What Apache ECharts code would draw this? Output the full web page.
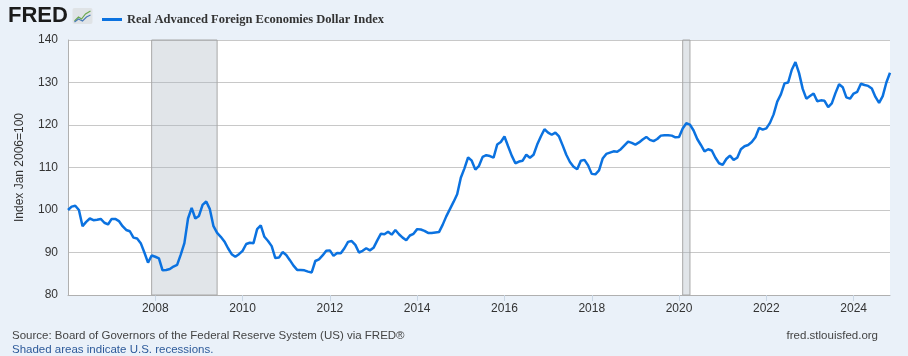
<!DOCTYPE html>
<html>
<head>
<meta charset="utf-8">
<script src="https://cdn.jsdelivr.net/npm/echarts@6/dist/echarts.min.js"></script>
<style>
html,body{margin:0;padding:0;background:#eaf1f9;}
#c{width:908px;height:356px;}
</style>
</head>
<body>
<div id="c"></div>
<script>
// Monthly data, Jan 2006 .. Nov 2024
var startYear = 2006;
var seriesName = 'Real Advanced Foreign Economies Dollar Index';
var values = [
100.0,100.8,101.0,100.0,96.2,97.2,98.0,97.6,97.7,97.9,97.0,96.6,
97.9,97.9,97.4,96.2,95.3,95.0,93.5,93.3,92.2,90.0,87.6,89.3,
89.0,88.6,85.8,85.9,86.1,86.7,87.1,89.5,92.2,98.0,100.5,98.0,
98.6,101.2,102.0,100.2,96.2,94.6,93.7,92.6,91.0,89.6,89.0,89.6,
90.4,92.0,92.3,92.2,95.5,96.4,93.7,92.7,91.5,88.7,88.8,90.1,
89.4,88.2,86.9,85.9,85.9,85.8,85.5,85.3,88.0,88.4,89.3,90.4,
90.5,89.2,89.9,89.8,91.0,92.5,92.7,91.8,90.0,90.4,91.0,90.5,
91.1,92.8,94.4,94.3,94.9,94.2,95.3,94.3,93.5,92.9,94.0,94.4,
95.5,95.4,95.1,94.6,94.6,94.7,94.8,96.5,98.5,100.2,101.9,103.7,
107.6,109.8,112.4,111.6,109.5,110.4,112.5,112.9,112.7,112.3,115.4,116.0,
117.3,115.0,112.8,111.0,111.4,111.6,113.0,112.3,113.0,115.4,117.3,119.0,
118.2,117.7,118.2,117.3,115.2,113.0,111.3,110.2,109.6,111.6,111.8,110.5,
108.5,108.4,109.3,112.1,113.2,113.5,113.8,113.7,114.3,115.2,116.1,115.8,
115.4,115.9,116.6,117.2,116.5,116.2,116.7,117.5,117.6,117.6,117.5,117.1,
117.2,119.2,120.4,120.1,118.7,116.7,115.3,113.8,114.3,114.0,112.3,111.0,
110.6,112.0,112.8,111.8,112.3,114.3,115.0,115.3,116.0,117.1,119.3,118.9,
119.2,120.5,122.5,125.5,127.2,129.8,130.0,133.0,134.8,132.2,128.5,126.2,
126.8,127.4,125.6,125.8,125.7,124.2,125.1,127.5,129.6,128.9,126.5,126.2,
127.4,127.8,129.7,129.4,129.2,128.6,126.6,125.2,126.8,130.0,132.3
];
var xTickLabels = ['2008','2010','2012','2014','2016','2018','2020','2022','2024'];
var recessions = [['2007-12','2009-06'],['2020-02','2020-04']];

var categories = [];
for (var i = 0; i < values.length; i++) {
  var y = startYear + Math.floor(i / 12);
  var m = (i % 12) + 1;
  categories.push(y + '-' + (m < 10 ? '0' + m : m));
}
function isTick(idx) {
  var c = categories[idx];
  return c.slice(5) === '01' && xTickLabels.indexOf(c.slice(0, 4)) >= 0;
}

var chart = echarts.init(document.getElementById('c'), null, {renderer: 'canvas'});
chart.setOption({
  backgroundColor: '#eaf1f9',
  animation: false,
  grid: {left: 68, right: 18, top: 40, bottom: 61, show: true, backgroundColor: '#ffffff', borderWidth: 0},
  legend: {
    left: 97, top: 8,
    icon: 'rect', itemWidth: 20, itemHeight: 3, itemGap: 6,
    textStyle: {fontFamily: 'Liberation Serif', fontWeight: 'bold', fontSize: 12.5, color: '#333'},
    data: [seriesName]
  },
  xAxis: {
    type: 'category', data: categories, boundaryGap: false,
    axisLine: {show: true, lineStyle: {color: '#b0b0b0', width: 1}},
    axisTick: {show: true, interval: function (idx) { return isTick(idx); }, length: 6, lineStyle: {color: '#c9d6e4'}},
    axisLabel: {
      interval: function (idx) { return isTick(idx); },
      formatter: function (v) { return v.slice(0, 4); },
      color: '#333', fontSize: 12, fontFamily: 'Liberation Sans', margin: 8
    },
    splitLine: {show: false}
  },
  yAxis: {
    type: 'value', min: 80, max: 140, interval: 10,
    name: 'Index Jan 2006=100', nameLocation: 'middle', nameGap: 42, nameRotate: 90,
    nameTextStyle: {color: '#333', fontSize: 12, fontFamily: 'Liberation Sans'},
    axisLine: {show: true, lineStyle: {color: '#b0b0b0', width: 1}},
    axisTick: {show: false},
    axisLabel: {color: '#333', fontSize: 12, fontFamily: 'Liberation Sans', margin: 10},
    splitLine: {show: true, lineStyle: {color: '#c8c8c8', width: 1}}
  },
  series: [{
    name: seriesName, type: 'line', data: values,
    showSymbol: false, symbol: 'none',
    lineStyle: {color: '#0b72e0', width: 2.5},
    itemStyle: {color: '#0b72e0'},
    markArea: {
      silent: true,
      itemStyle: {color: 'rgba(170,180,192,0.35)', borderColor: '#a8a8a8', borderWidth: 1},
      data: recessions.map(function (r) { return [{xAxis: r[0]}, {xAxis: r[1]}]; })
    }
  }],
  graphic: [
    {type: 'text', left: 8, top: 5, style: {text: 'FRED', fontFamily: 'Liberation Sans', fontWeight: 900, fontSize: 22, fill: '#1b1b1b'}},
    {type: 'group', left: 72, top: 8, children: [
      {type: 'rect', shape: {x: 0, y: 0, width: 20, height: 16, r: 2}, style: {fill: '#dfe3e6'}},
      {type: 'polyline', shape: {points: [[2, 13], [6, 9], [9, 11], [13, 6], [18, 3]]}, style: {stroke: '#6aa84f', lineWidth: 1.2, fill: null}},
      {type: 'polyline', shape: {points: [[2, 14], [6, 11], [10, 13], [14, 9], [18, 7]]}, style: {stroke: '#4a7bb7', lineWidth: 1.2, fill: null}}
    ]},
    {type: 'text', left: 12, top: 330, style: {text: 'Source: Board of Governors of the Federal Reserve System (US) via FRED®', fontFamily: 'Liberation Sans', fontSize: 11.5, fill: '#444'}},
    {type: 'text', left: 12, top: 344, style: {text: 'Shaded areas indicate U.S. recessions.', fontFamily: 'Liberation Sans', fontSize: 11.5, fill: '#2d5a9a'}},
    {type: 'text', right: 30, top: 330, style: {text: 'fred.stlouisfed.org', fontFamily: 'Liberation Sans', fontSize: 11.5, fill: '#444'}}
  ]
});
</script>
</body>
</html>
